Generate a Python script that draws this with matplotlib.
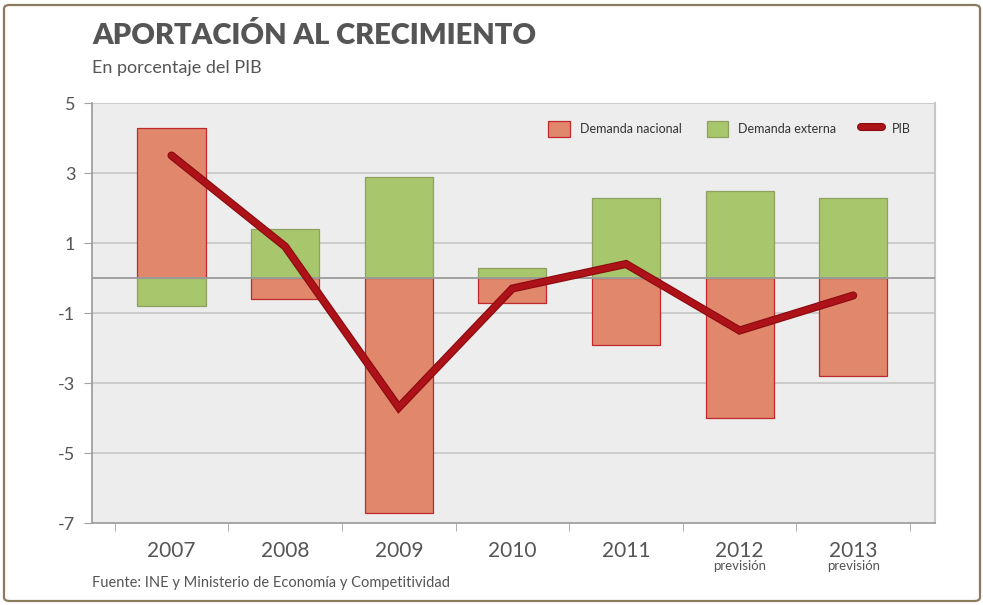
import matplotlib.pyplot as plt
import matplotlib.patheffects as pe
from matplotlib.patches import FancyBboxPatch
import numpy as np

# Data
years = ['2007', '2008', '2009', '2010', '2011', '2012', '2013']
sublabels = ['', '', '', '', '', 'previsión', 'previsión']
demanda_nacional = [4.3, -0.6, -6.7, -0.7, -1.9, -4.0, -2.8]
demanda_externa = [-0.8, 1.4, 2.9, 0.3, 2.3, 2.5, 2.3]
pib = [3.5, 0.9, -3.7, -0.3, 0.4, -1.5, -0.5]
yticks = [5, 3, 1, -1, -3, -5, -7]

plt.rcParams['font.family'] = ['Lato', 'DejaVu Sans']

fig = plt.figure(figsize=(9.83, 6.05), dpi=100)
ax = fig.add_axes([92/983, 1-523/605, (935-92)/983, (523-103)/605])

# outer frame
frame = FancyBboxPatch((4/983, 4/605), 976/983, 596/605,
                       boxstyle='round,pad=0,rounding_size=0.006',
                       transform=fig.transFigure, fill=False,
                       edgecolor='#8c7a5e', linewidth=1.6, zorder=0)
fig.patches.append(frame)

ax.set_facecolor('#ededed')
x = np.arange(len(years))
w = 0.6

for yv in [5, 3, 1, -1, -3, -5]:
    ax.axhline(yv, color='#c6c6c6', linewidth=1.2, zorder=1)

b1 = ax.bar(x, demanda_nacional, width=w, color='#e0876c', edgecolor='#c0282d',
            linewidth=0.9, zorder=2, label='Demanda nacional')
b2 = ax.bar(x, demanda_externa, width=w, color='#a8c66c', edgecolor='#8fa160',
            linewidth=0.9, zorder=2, label='Demanda externa')
ax.axhline(0, color='#9a9a9a', linewidth=1.3, zorder=3)

l1, = ax.plot(x, pib, color='#ad1218', linewidth=4.2, solid_capstyle='round',
              solid_joinstyle='miter', zorder=4, label='PIB',
              path_effects=[pe.Stroke(linewidth=5.8, foreground='#8a0a0f'), pe.Normal()])

ax.set_xlim(-0.7, 6.72)
ax.set_ylim(-7, 5)
ax.set_yticks(yticks)
ax.set_yticklabels([str(v) for v in yticks], fontsize=13, color='#555555')
ax.tick_params(axis='y', length=6, color='#a0a0a0', pad=6)

ax.set_xticks(x)
ax.set_xticklabels(years, fontsize=15, color='#555555')
ax.tick_params(axis='x', which='major', length=0, pad=13)
ax.set_xticks(np.arange(-0.5, 7, 1), minor=True)
ax.tick_params(axis='x', which='minor', length=6, color='#a0a0a0')

for i, s in enumerate(sublabels):
    if s:
        ax.text(i, -0.087, s, transform=ax.get_xaxis_transform(), ha='center',
                va='top', fontsize=9.5, color='#555555')

for side in ['left', 'bottom']:
    ax.spines[side].set_color('#a0a0a0')
    ax.spines[side].set_linewidth(1.3)
ax.spines['right'].set_color('#c6c6c6')
ax.spines['right'].set_linewidth(1.5)
ax.spines['top'].set_visible(False)

leg = ax.legend([b1, b2, l1], ['Demanda nacional', 'Demanda externa', 'PIB'],
                loc='upper right', ncol=3, frameon=False, fontsize=9,
                handlelength=1.7, handleheight=1.7, columnspacing=2.0,
                handletextpad=0.8, bbox_to_anchor=(0.985, 0.985))
for t in leg.get_texts():
    t.set_color('#333333')

fig.text(92/983, 1-36/605, 'APORTACIÓN AL CRECIMIENTO', fontsize=21,
         fontweight='heavy', color='#555555', va='center', ha='left')
fig.text(92/983, 1-68/605, 'En porcentaje del PIB', fontsize=13,
         color='#555555', va='center', ha='left')
fig.text(92/983, 1-583/605, 'Fuente: INE y Ministerio de Economía y Competitividad',
         fontsize=10.5, color='#555555', va='center', ha='left')

fig.savefig('out.png', dpi=100)
